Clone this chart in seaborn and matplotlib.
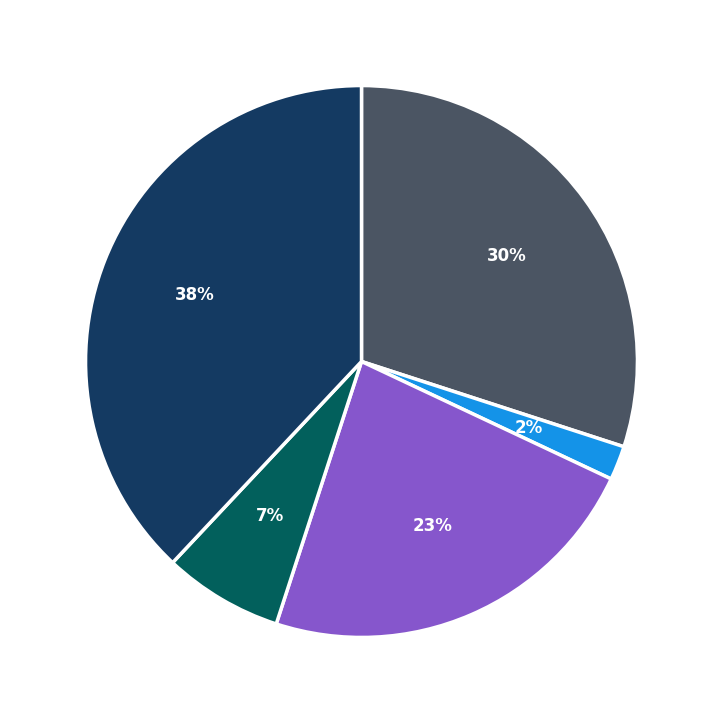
import matplotlib
matplotlib.use("Agg")
import matplotlib.pyplot as plt
import seaborn as sns

sns.set_theme(style="white")
plt.rcParams['font.family'] = ['DejaVu Sans']

labels = ["A", "B", "C", "D", "E"]
values = [30, 2, 23, 7, 38]
colors = ["#4b5563", "#1493e8", "#8656cc", "#02605c", "#143a62"]

fig = plt.figure(figsize=(7.23, 7.23), dpi=100)
ax = fig.add_axes([0, 0, 1, 1])
wedges, texts, autotexts = ax.pie(
    values, colors=colors, startangle=90, counterclock=False,
    autopct="%1.0f%%", pctdistance=0.65,
    wedgeprops=dict(edgecolor="white", linewidth=2.5),
    textprops=dict(color="white", fontsize=12, fontweight="bold"))
ax.set_xlim(-1.31, 1.31)
ax.set_ylim(-1.31, 1.31)
ax.set_aspect("equal")
ax.axis("off")
fig.savefig("out.png", dpi=100, facecolor="white")
